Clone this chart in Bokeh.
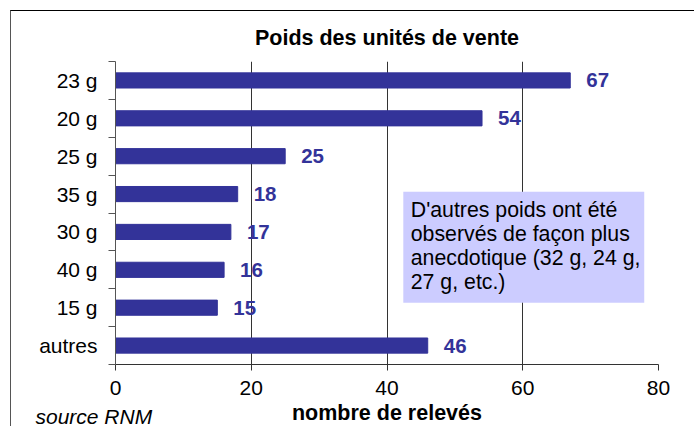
from bokeh.plotting import figure
from bokeh.models import Range1d, FixedTicker, Title, ColumnDataSource
from bokeh.core.properties import value
from bokeh.embed import file_html
from bokeh.resources import INLINE

# ---- data ----
categories = ["23 g", "20 g", "25 g", "35 g", "30 g", "40 g", "15 g", "autres"]
counts = [67, 54, 25, 18, 17, 16, 15, 46]
x_ticks = [0, 20, 40, 60, 80]
title_text = "Poids des unités de vente"
x_title = "nombre de relevés"
source_text = "source RNM"
note_text = "D'autres poids ont été\nobservés de façon plus\nanecdotique (32 g, 24 g,\n27 g, etc.)"

FONT = "Liberation Sans"
BAR = "#333399"
n = len(categories)
ys = [n - 0.5 - i for i in range(n)]
src = ColumnDataSource(dict(y=ys, v=counts, lab=[str(c) for c in counts], cat=categories))

p = figure(width=684, height=416, output_backend="svg", toolbar_location=None,
           x_range=Range1d(0, 80), y_range=Range1d(0, n),
           min_border_left=104, min_border_right=37, min_border_top=50, min_border_bottom=61)
p.styles = {"margin-left": "10px", "margin-top": "10px",
            "border-top": "1.5px solid black", "border-left": "1px solid #555555"}
p.outline_line_color = None
p.background_fill_color = "white"
p.border_fill_color = "white"

p.title.text = title_text
p.title.align = "center"
p.title.vertical_align = "bottom"
p.title.text_font = FONT
p.title.text_font_size = "21.5px"
p.title.text_font_style = "bold"
p.title.text_color = "black"
p.title.standoff = 24

# x axis
xa = p.xaxis[0]
xa.ticker = FixedTicker(ticks=x_ticks, minor_ticks=[])
xa.axis_line_color = "#333333"
xa.major_tick_line_color = "#333333"
xa.major_tick_out = 6
xa.major_tick_in = 0
xa.major_label_text_font = FONT
xa.major_label_text_font_size = "21px"
xa.major_label_text_color = "black"
xa.major_label_standoff = 10
xa.axis_label = x_title
xa.axis_label_text_font = FONT
xa.axis_label_text_font_size = "21.5px"
xa.axis_label_text_font_style = "bold"
xa.axis_label_text_color = "black"
xa.axis_label_standoff = 3

# y axis: labels at category centers, ticks at boundaries
ya = p.yaxis[0]
ya.ticker = FixedTicker(ticks=ys, minor_ticks=list(range(n + 1)))
ya.major_label_overrides = {y: c for y, c in zip(ys, categories)}
ya.major_tick_line_color = None
ya.minor_tick_line_color = "#555555"
ya.minor_tick_out = 7
ya.minor_tick_in = 0
ya.axis_line_color = "#555555"
ya.major_label_text_font = FONT
ya.major_label_text_font_size = "21px"
ya.major_label_text_color = "black"
ya.major_label_standoff = 11

p.xgrid.ticker = FixedTicker(ticks=x_ticks)
p.xgrid.grid_line_color = "#333333"
p.ygrid.grid_line_color = None

p.hbar(y="y", left=0, right="v", height=0.4, source=src, fill_color=BAR, line_color=BAR)
p.text(x="v", y="y", text="lab", source=src, x_offset=16, text_baseline="middle",
       text_font=value(FONT), text_font_size="20.5px", text_font_style="bold", text_color=BAR)

# note box
p.quad(left=42.4, right=77.9, bottom=1.63, top=4.56, fill_color="#CCCCFF", line_color=None)
p.text(x=[43.5], y=[4.405], text=[note_text], text_baseline="top", text_align="left",
       text_font=value(FONT), text_font_size="21.3px", text_color="black", text_line_height=1.0)

# source note, bottom-left
p.add_layout(Title(text=source_text, align="left", vertical_align="top", offset=-80, standoff=-46,
                   text_font=FONT, text_font_size="21px", text_font_style="italic",
                   text_color="black"), "below")

open("out.html", "w").write(file_html(p, INLINE))
